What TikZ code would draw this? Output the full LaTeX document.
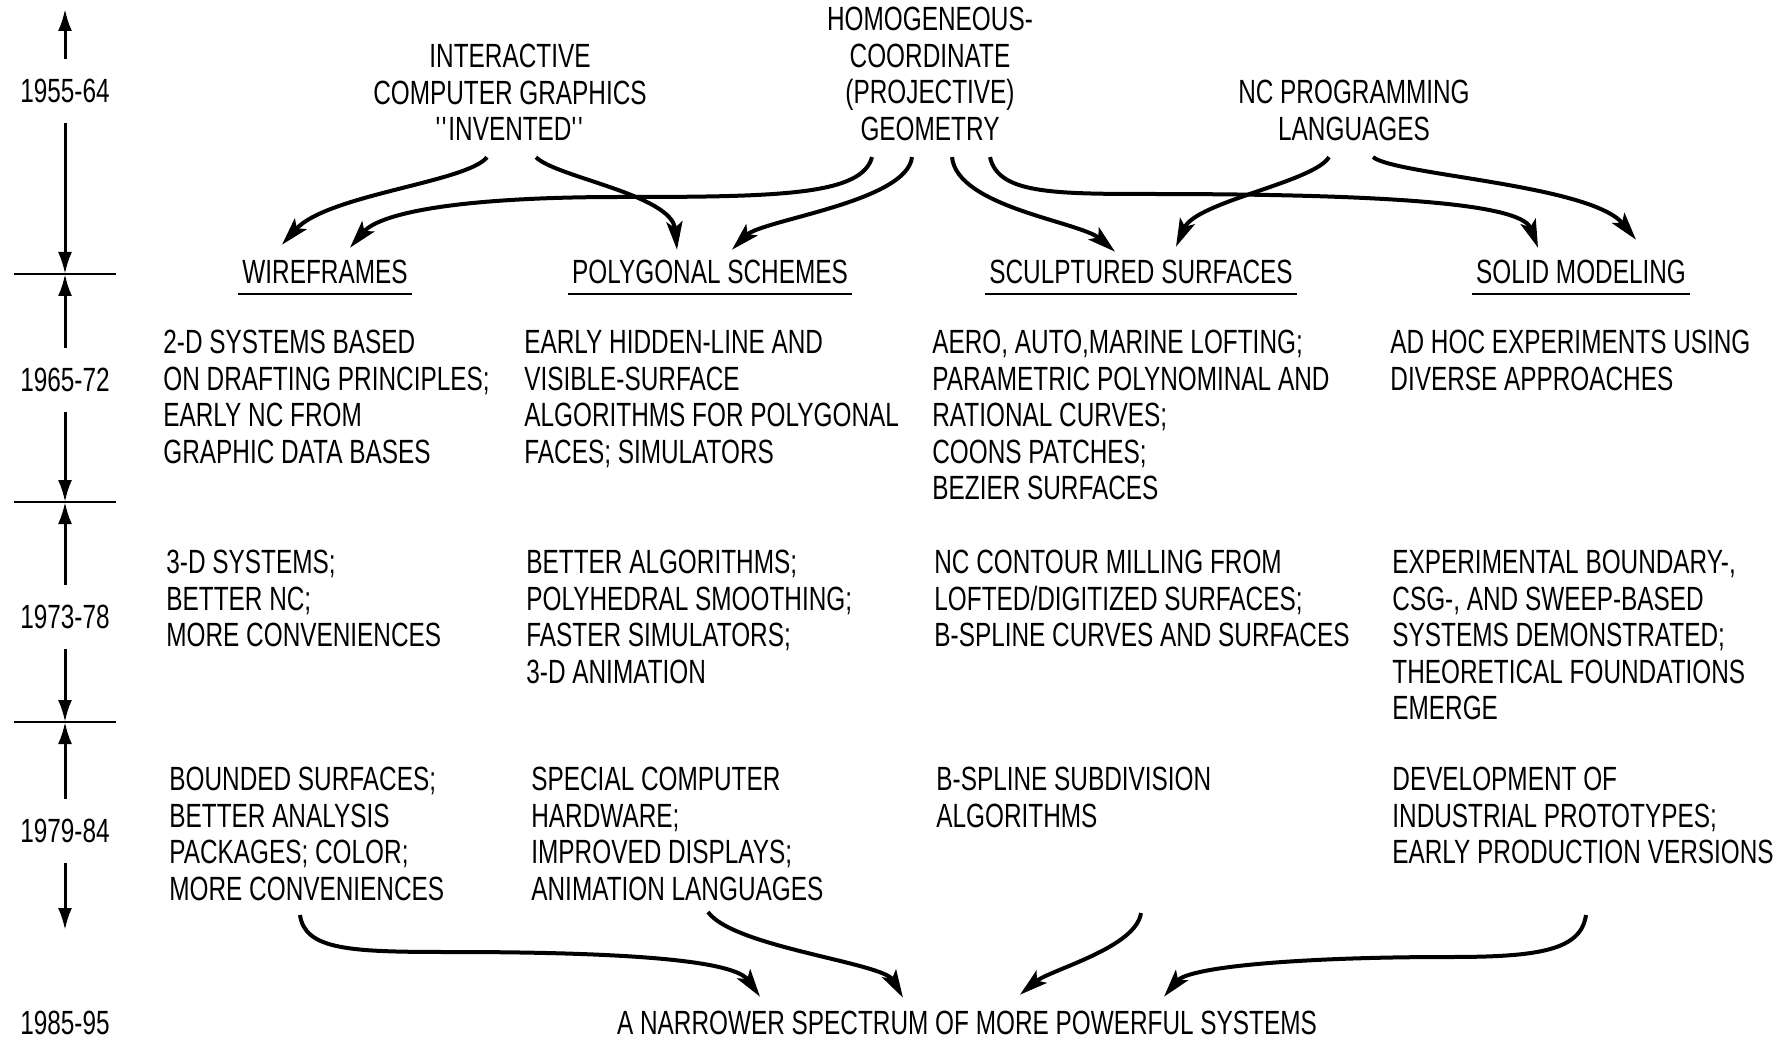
\documentclass[tikz,border=0pt]{standalone}
\usepackage{fontspec}
\setmainfont{Liberation Sans}[FakeStretch=0.725]
\usetikzlibrary{arrows.meta}

\newcommand{\txtfont}{\fontsize{16.8}{18.25}\selectfont}

\tikzset{
    txt/.style={inner sep=0pt, font=\txtfont},
    body/.style={txt, anchor=north west, align=left},
    src/.style={txt, anchor=north, align=center},
    head/.style={txt},
    year/.style={txt, inner xsep=0pt, inner ysep=10pt},
    uline/.style={line width=1pt},
    tick/.style={line width=1.1pt},
    tl/.style={line width=1.5pt, -{Latex[length=11pt,width=7pt]}},
    flow/.style={line width=2pt, -{Stealth[length=14pt,width=8pt,inset=3pt]}}
}

\newcommand{\colhead}[3]{
    \node[head] (#1) at (#2, 272) {#3};
    \draw[uline] ([shift={(-4,10)}]#1.south west) -- ([shift={(4,10)}]#1.south east);
}

\begin{document}
\begin{tikzpicture}[x=0.5pt, y=-0.5pt]
            \fill[white] (0,0) rectangle (1789,1043);
            \useasboundingbox (0,0) rectangle (1789,1043);

            \node[year] (y55) at (65,91) {1955-64};
            \node[year] (y65) at (65,380) {1965-72};
            \node[year] (y73) at (65,617) {1973-78};
            \node[year] (y79) at (65,831) {1979-84};
            \node[year] (y85) at (65,1023) {1985-95};
            \coordinate (ttop) at (65,9);
            \coordinate (t1) at (65,274);
            \coordinate (t2) at (65,502);
            \coordinate (t3) at (65,722);
            \coordinate (tend) at (65,930);
            \foreach \t in {t1, t2, t3} {
                \draw[tick] (\t) ++(-51,0) -- ++(102,0);
            }
            \draw[tl] (y55) -- (ttop);
            \draw[tl] (y55) -- (t1);
            \draw[tl] (y65) -- (t1);
            \draw[tl] (y65) -- (t2);
            \draw[tl] (y73) -- (t2);
            \draw[tl] (y73) -- (t3);
            \draw[tl] (y79) -- (t3);
            \draw[tl] (y79) -- (tend);

            \node[src] (inter) at (510,44) {INTERACTIVE\\COMPUTER GRAPHICS\\\textquotesingle\textquotesingle INVENTED\textquotesingle\textquotesingle};
            \node[src] (homog) at (930,7) {HOMOGENEOUS-\\COORDINATE\\(PROJECTIVE)\\GEOMETRY};
            \node[src] (nc) at (1354,80) {NC PROGRAMMING\\LANGUAGES};

            \colhead{wire}{325}{WIREFRAMES}
            \colhead{poly}{710}{POLYGONAL SCHEMES}
            \colhead{surf}{1141}{SCULPTURED SURFACES}
            \colhead{solid}{1581}{SOLID MODELING}

            \node[body] (wire65) at (163,330) {2-D SYSTEMS BASED\\ON DRAFTING PRINCIPLES;\\EARLY NC FROM\\GRAPHIC DATA BASES};
            \node[body] (poly65) at (524,330) {EARLY HIDDEN-LINE AND\\VISIBLE-SURFACE\\ALGORITHMS FOR POLYGONAL\\FACES; SIMULATORS};
            \node[body] (surf65) at (932,330) {AERO, AUTO,MARINE LOFTING;\\PARAMETRIC POLYNOMINAL AND\\RATIONAL CURVES;\\COONS PATCHES;\\BEZIER SURFACES};
            \node[body] (solid65) at (1390,330) {AD HOC EXPERIMENTS USING\\DIVERSE APPROACHES};

            \node[body] (wire73) at (166,550) {3-D SYSTEMS;\\BETTER NC;\\MORE CONVENIENCES};
            \node[body] (poly73) at (526,550) {BETTER ALGORITHMS;\\POLYHEDRAL SMOOTHING;\\FASTER SIMULATORS;\\3-D ANIMATION};
            \node[body] (surf73) at (934,550) {NC CONTOUR MILLING FROM\\LOFTED/DIGITIZED SURFACES;\\B-SPLINE CURVES AND SURFACES};
            \node[body] (solid73) at (1392,550) {EXPERIMENTAL BOUNDARY-,\\CSG-, AND SWEEP-BASED\\SYSTEMS DEMONSTRATED;\\THEORETICAL FOUNDATIONS\\EMERGE};

            \node[body] (wire79) at (169,767) {BOUNDED SURFACES;\\BETTER ANALYSIS\\PACKAGES; COLOR;\\MORE CONVENIENCES};
            \node[body] (poly79) at (531,767) {SPECIAL COMPUTER\\HARDWARE;\\IMPROVED DISPLAYS;\\ANIMATION LANGUAGES};
            \node[body] (surf79) at (936,767) {B-SPLINE SUBDIVISION\\ALGORITHMS};
            \node[body] (solid79) at (1392,767) {DEVELOPMENT OF\\INDUSTRIAL PROTOTYPES;\\EARLY PRODUCTION VERSIONS};

            \node[txt] (spectrum) at (967,1023) {A NARROWER SPECTRUM OF MORE POWERFUL SYSTEMS};

            \draw[flow] ([shift={(-23,16)}]inter.south) .. controls +(-20,25) and +(45,-50) .. ([shift={(-43,-15)}]wire.north);
            \draw[flow] ([shift={(26,16)}]inter.south) .. controls +(20,20) and +(-5,-55) .. ([shift={(-33,-10)}]poly.north);
            \draw[flow] ([shift={(-58,16)}]homog.south) .. controls +(-10,38) and (780,197) .. (620,197)
                .. controls (460,197) and +(30,-35) .. ([shift={(25,-12)}]wire.north);
            \draw[flow] ([shift={(-18,16)}]homog.south) .. controls +(-5,45) and +(30,-30) .. ([shift={(22,-10)}]poly.north);
            \draw[flow] ([shift={(22,16)}]homog.south) .. controls +(5,50) and +(-35,-30) .. ([shift={(-26,-8)}]surf.north);
            \draw[flow] ([shift={(60,16)}]homog.south) .. controls +(8,36) and (1050,194) .. (1150,194)
                .. controls (1430,194) and +(-15,-40) .. ([shift={(-43,-12)}]solid.north);
            \draw[flow] ([shift={(-25,16)}]nc.south) .. controls +(-15,25) and +(20,-45) .. ([shift={(35,-13)}]surf.north);
            \draw[flow] ([shift={(19,16)}]nc.south) .. controls +(22,18) and +(-45,-55) .. ([shift={(55,-20)}]solid.north);

            \draw[flow] ([shift={(131,148)}]wire79.north west) .. controls +(5,35) and (350,952) .. (450,952)
                .. controls (640,952) and +(-25,-35) .. ([shift={(-207,-14)}]spectrum.north);
            \draw[flow] ([shift={(177,145)}]poly79.north west) .. controls +(25,35) and +(-20,-35) .. ([shift={(-64,-13)}]spectrum.north);
            \draw[flow] ([shift={(205,146)}]surf79.north west) .. controls +(-5,35) and +(30,-25) .. ([shift={(53,-16)}]spectrum.north);
            \draw[flow] ([shift={(194,148)}]solid79.north west) .. controls +(-5,35) and (1540,957) .. (1450,957)
                .. controls (1300,957) and +(25,-30) .. ([shift={(197,-14)}]spectrum.north);
\end{tikzpicture}
\end{document}
